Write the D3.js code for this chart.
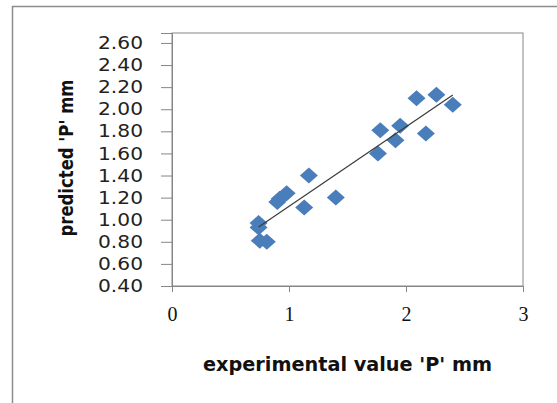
<!DOCTYPE html>
<html>
<head>
<meta charset="utf-8">
<script src="https://cdn.jsdelivr.net/npm/d3@7"></script>
<style>
  body { margin: 0; background: #fff; }
  svg { display: block; }
</style>
</head>
<body>
<svg id="chart" width="557" height="403"></svg>
<script>
// values
const experimental = [0.74, 0.74, 0.75, 0.81, 0.90, 0.92, 0.98, 1.13, 1.17, 1.40, 1.76, 1.78, 1.91, 1.95, 2.09, 2.17, 2.26, 2.40];
const predicted    = [0.97, 0.93, 0.81, 0.80, 1.16, 1.19, 1.24, 1.11, 1.40, 1.20, 1.60, 1.81, 1.72, 1.85, 2.10, 1.78, 2.13, 2.04];
const xTicks = [0, 1, 2, 3];
const yTicks = [0.4, 0.6, 0.8, 1.0, 1.2, 1.4, 1.6, 1.8, 2.0, 2.2, 2.4, 2.6];

const svg = d3.select('#chart');
const plot = { left: 172, right: 523, top: 33, bottom: 286 };

// outer frame (cut by the window on the right and bottom)
svg.append('rect')
  .attr('x', 12.5).attr('y', 6.5)
  .attr('width', 600).attr('height', 450)
  .attr('fill', 'none').attr('stroke', '#8c8c8c').attr('stroke-width', 1.5);

const xScale = d3.scaleLinear().domain([0, 3]).range([plot.left, plot.right]);
const yScale = d3.scaleLinear().domain([0.4, 2.69]).range([plot.bottom, plot.top]);

// plot area border
svg.append('rect')
  .attr('x', plot.left).attr('y', plot.top)
  .attr('width', plot.right - plot.left).attr('height', plot.bottom - plot.top)
  .attr('fill', 'none').attr('stroke', '#868686').attr('stroke-width', 1);

const yAxis = svg.append('g')
  .attr('transform', `translate(${plot.left},0)`)
  .call(d3.axisLeft(yScale).tickValues(yTicks).tickFormat(d3.format('.2f')).tickSize(11).tickPadding(18));
yAxis.select('.domain').attr('stroke', '#868686');
yAxis.selectAll('.tick line').attr('stroke', '#868686');
yAxis.selectAll('.tick text')
  .attr('fill', '#222')
  .style('font-family', 'DejaVu Sans, sans-serif')
  .style('font-size', '17.5px')
  .attr('textLength', 45)
  .attr('lengthAdjust', 'spacingAndGlyphs');

const xAxis = svg.append('g')
  .attr('transform', `translate(0,${plot.bottom})`)
  .call(d3.axisBottom(xScale).tickValues(xTicks).tickFormat(d3.format('d')).tickSize(6).tickPadding(15));
xAxis.select('.domain').attr('stroke', '#868686');
xAxis.selectAll('.tick line').attr('stroke', '#868686');
xAxis.selectAll('.tick text')
  .attr('fill', '#111')
  .style('font-family', 'Liberation Serif, serif')
  .style('font-size', '20px');

// data points as diamonds
const diamond = 'M0,-8 L9,0 L0,8 L-9,0 Z';
const points = experimental.map((x, i) => ({ x, y: predicted[i] }));
svg.append('g')
  .selectAll('path')
  .data(points)
  .enter()
  .append('path')
  .attr('d', diamond)
  .attr('transform', d => `translate(${xScale(d.x)},${yScale(d.y)})`)
  .attr('fill', '#4a7ebb');

// linear trend line over the data range
const mx = d3.mean(experimental), my = d3.mean(predicted);
const slope = d3.sum(points, d => (d.x - mx) * (d.y - my)) / d3.sum(points, d => (d.x - mx) ** 2);
const icpt = my - slope * mx;
const [x0, x1] = d3.extent(experimental);
svg.append('line')
  .attr('x1', xScale(x0)).attr('y1', yScale(icpt + slope * x0))
  .attr('x2', xScale(x1)).attr('y2', yScale(icpt + slope * x1))
  .attr('stroke', '#3a3a3a').attr('stroke-width', 1.2);

// axis titles
svg.append('text')
  .attr('x', 203).attr('y', 371)
  .attr('textLength', 289).attr('lengthAdjust', 'spacingAndGlyphs')
  .style('font-family', 'DejaVu Sans, sans-serif')
  .style('font-size', '19px').style('font-weight', 'bold')
  .attr('fill', '#111')
  .text("experimental value 'P' mm");

svg.append('text')
  .attr('transform', 'translate(73,158) rotate(-90)')
  .attr('text-anchor', 'middle')
  .attr('textLength', 157).attr('lengthAdjust', 'spacingAndGlyphs')
  .style('font-family', 'DejaVu Sans, sans-serif')
  .style('font-size', '19px').style('font-weight', 'bold')
  .attr('fill', '#111')
  .text("predicted 'P' mm");
</script>
</body>
</html>
